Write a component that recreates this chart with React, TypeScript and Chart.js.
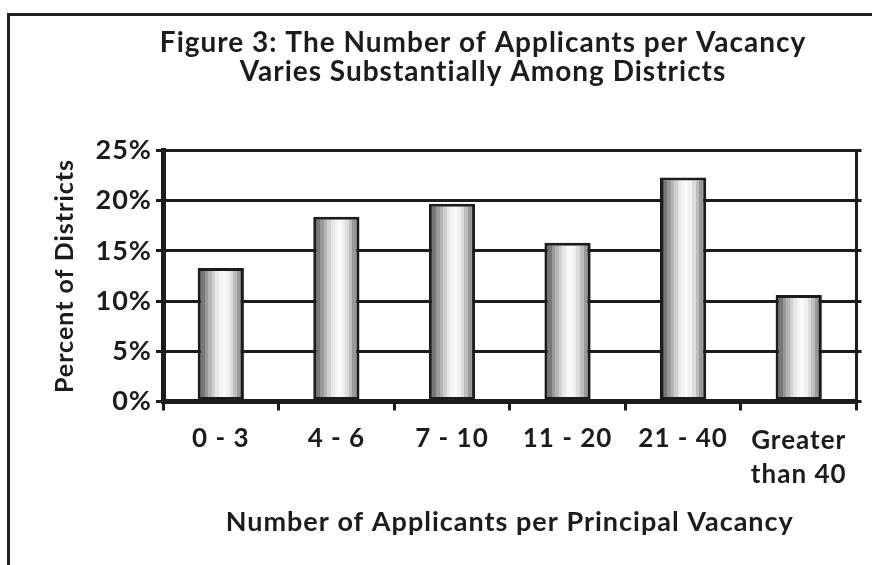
import { useEffect, useRef } from 'react';
import { Chart, registerables } from 'chart.js';

Chart.register(...registerables);

// ---- data ----
const CATEGORIES: (string | string[])[] = ['0 - 3', '4 - 6', '7 - 10', '11 - 20', '21 - 40', ['Greater', 'than 40']];
const PERCENT_OF_DISTRICTS: number[] = [13.3, 18.4, 19.7, 15.8, 22.3, 10.6];
const Y_MIN = 0;
const Y_MAX = 25;
const Y_STEP = 5;
const TITLE_LINES: string[] = ['Figure 3: The Number of Applicants per Vacancy', 'Varies Substantially Among Districts'];
const X_TITLE = 'Number of Applicants per Principal Vacancy';
const Y_TITLE = 'Percent of Districts';

// ---- style ----
const FONT = 'Lato';
const INK = '#1c1c1c';
const BAND_COLORS: string[] = [
  '#555555', '#777777', '#999999', '#b5b5b5', '#d0d0d0', '#e8e8e8', '#f5f5f5',
  '#fafafa', '#f0f0f0', '#dcdcdc', '#bdbdbd', '#999999', '#6a6a6a',
];
const BAR_PCT = 0.4;
const CANVAS_W = 926;
const CANVAS_H = 565;
const PAD_LEFT = 40;
const PLOT_LEFT = 163;
const PLOT_RIGHT = 856.5;
const PLOT_BOTTOM = 401.5;

function barFill(ctx: any) {
  const chart = ctx.chart;
  const xs = chart.scales && chart.scales.x;
  if (ctx.type !== 'data' || !xs || !chart.chartArea) return '#bbbbbb';
  const cx = xs.getPixelForValue(ctx.dataIndex);
  const w = (xs.width / CATEGORIES.length) * BAR_PCT;
  const g = chart.ctx.createLinearGradient(cx - w / 2, 0, cx + w / 2, 0);
  const n = BAND_COLORS.length;
  BAND_COLORS.forEach((c, i) => {
    g.addColorStop(i / n, c);
    g.addColorStop((i + 1) / n, c);
  });
  return g;
}

const letterSpacingPlugin = {
  id: 'letterSpacing',
  beforeUpdate(chart: any) {
    chart.ctx.letterSpacing = '1px';
  },
  beforeDraw(chart: any) {
    chart.ctx.letterSpacing = '1px';
  },
};

export default function App() {
  const ref = useRef<HTMLCanvasElement | null>(null);

  useEffect(() => {
    if (!ref.current) return;
    const chart = new Chart(ref.current, {
      type: 'bar',
      data: {
        labels: CATEGORIES,
        datasets: [
          {
            data: PERCENT_OF_DISTRICTS,
            backgroundColor: barFill,
            borderColor: INK,
            borderWidth: 3,
            borderSkipped: false,
            barPercentage: BAR_PCT,
            categoryPercentage: 1,
          },
        ],
      },
      plugins: [letterSpacingPlugin],
      options: {
        responsive: false,
        animation: false,
        layout: { padding: { left: PAD_LEFT, right: 0, top: 0, bottom: 0 } },
        plugins: {
          legend: { display: false },
          tooltip: { enabled: false },
          title: {
            display: true,
            text: TITLE_LINES,
            color: INK,
            font: { family: FONT, size: 28, weight: 'bold', lineHeight: 29 / 28 },
            padding: { top: 28, bottom: 64.5 },
          },
        },
        scales: {
          x: {
            grid: { offset: true, drawOnChartArea: false, drawTicks: true, tickLength: 9, color: INK, lineWidth: 3 },
            border: { display: true, color: INK, width: 5 },
            ticks: {
              color: INK,
              padding: 13,
              maxRotation: 0,
              autoSkip: false,
              font: (c: any) => ({ family: FONT, size: 26, weight: 'bold', lineHeight: c.index === 5 ? 34 / 26 : 1.2 }),
            },
            title: {
              display: true,
              text: X_TITLE,
              color: INK,
              font: { family: FONT, size: 27, weight: 'bold', lineHeight: 1.2 },
              padding: { top: 0, bottom: 27 },
            },
            afterFit: (s: any) => {
              s.height = CANVAS_H - PLOT_BOTTOM;
            },
          },
          y: {
            min: Y_MIN,
            max: Y_MAX,
            ticks: {
              stepSize: Y_STEP,
              color: INK,
              padding: 4,
              font: { family: FONT, size: 27, weight: 'bold' },
              callback: (v: any) => `${v}%`,
            },
            grid: { color: INK, lineWidth: 3, tickLength: 7, drawTicks: true },
            border: { display: true, color: INK, width: 5 },
            title: {
              display: true,
              text: Y_TITLE,
              color: INK,
              font: { family: FONT, size: 25, weight: 'bold', lineHeight: 1.2 },
              padding: { top: 9.5, bottom: 0 },
            },
            afterFit: (s: any) => {
              s.width = PLOT_LEFT - PAD_LEFT;
            },
          },
          y2: {
            position: 'right',
            min: Y_MIN,
            max: Y_MAX,
            ticks: { display: false, stepSize: Y_STEP },
            grid: { drawOnChartArea: false, color: INK, lineWidth: 3, tickLength: 5 },
            border: { display: true, color: INK, width: 3 },
            afterFit: (s: any) => {
              s.width = CANVAS_W - PLOT_RIGHT;
            },
          },
        },
      } as any,
    });
    return () => chart.destroy();
  }, []);

  return (
    <div style={{ position: 'fixed', left: 0, top: 0, width: 872, height: 565, overflow: 'hidden', background: '#ffffff' }}>
      <div
        style={{
          position: 'absolute',
          left: 7,
          top: 13,
          width: 900,
          height: 600,
          borderTop: '3px solid #222222',
          borderLeft: '3px solid #222222',
        }}
      />
      <canvas
        ref={ref}
        width={CANVAS_W}
        height={CANVAS_H}
        style={{ position: 'absolute', left: 0, top: 0, width: CANVAS_W, height: CANVAS_H }}
      />
    </div>
  );
}
